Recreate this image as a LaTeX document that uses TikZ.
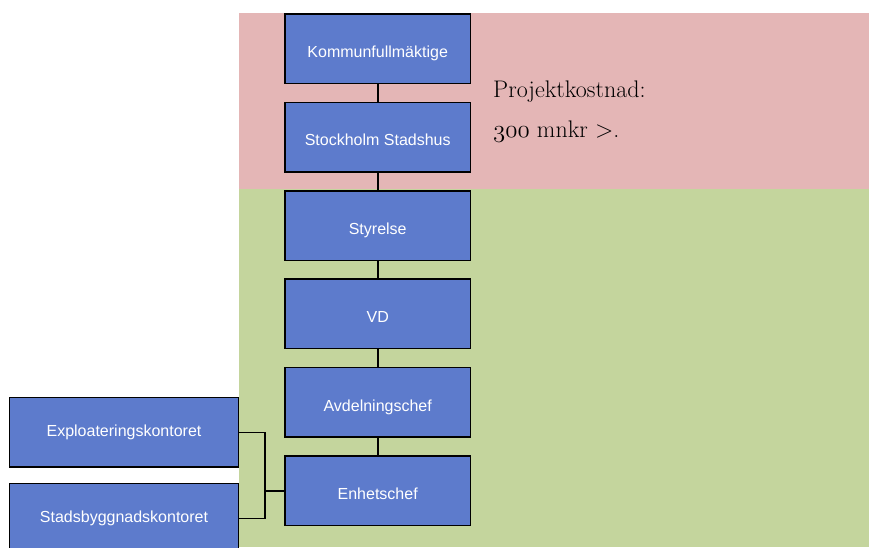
\documentclass[tikz,border=0pt]{standalone}
\usepackage{fontspec}
\newfontfamily\boxfont{Liberation Sans}
\usetikzlibrary{positioning}
\definecolor{boxblue}{RGB}{93,123,204}
\definecolor{bandpink}{RGB}{228,182,182}
\definecolor{bandgreen}{RGB}{196,213,157}
% old style figures from cmm
\newcommand{\osfig}[1]{{\fontencoding{OML}\fontfamily{cmm}\fontseries{m}\fontshape{it}\selectfont #1}}

\begin{document}
\begin{tikzpicture}[x=1pt,y=-1pt,node distance=17.4pt,
  org/.style={draw=black,line width=1.5pt,fill=boxblue,text=white,
    font=\boxfont\fontsize{16}{19}\selectfont,inner sep=0pt,
    text height=21pt,text depth=3.5pt,
    minimum width=185.3pt,minimum height=69.5pt},
  wide/.style={org,text height=,text depth=,minimum width=228.6pt},
  link/.style={draw=black,line width=1.6pt},
  cost/.style={anchor=base west,inner sep=0pt,font=\fontsize{24}{28}\selectfont}]

\useasboundingbox (0,0) rectangle (869,547);
\clip (0,0) rectangle (869,547);

% bands
\fill[bandpink] (239,13) rectangle (869,189);
\fill[bandgreen] (239,189) rectangle (869,547);

\node[org] (K) at (377.7,48.7) {Kommunfullmäktige};
\node[org] (S) [below=of K] {Stockholm Stadshus};
\node[org] (St) [below=of S] {Styrelse};
\node[org] (V) [below=of St] {VD};
\node[org] (A) [below=of V] {Avdelningschef};
\node[org] (Eh) [below=of A] {Enhetschef};

\node[wide] (E) at (124,432.3) {Exploateringskontoret};
\node[wide] (Sb) [below=15pt of E] {Stadsbyggnadskontoret};

\node[cost] (P) at (493,97) {Projektkostnad:};
\node[cost] (M) at (493,137) {\osfig{300} mnkr >.};

\foreach \a/\b in {K/S,S/St,St/V,V/A,A/Eh}
  \draw[link] (\a) -- (\b);

\coordinate (bus) at ([xshift=-19.5pt]Eh.west);
\draw[link] (E.east) -| (bus) |- (Sb.east);
\draw[link] (bus) -- (Eh.west);

\end{tikzpicture}
\end{document}
